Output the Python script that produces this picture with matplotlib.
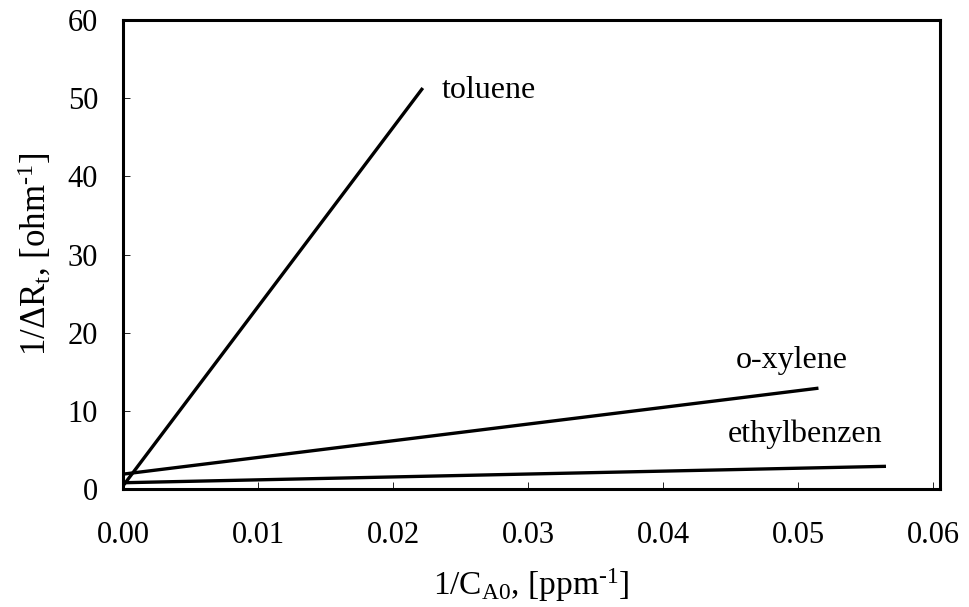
import numpy as np
import matplotlib.pyplot as plt

plt.rcParams['font.family'] = ['Liberation Serif', 'DejaVu Serif']
plt.rcParams['mathtext.fontset'] = 'custom'
plt.rcParams['mathtext.rm'] = 'Liberation Serif'
plt.rcParams['mathtext.it'] = 'Liberation Serif'

# line endpoints (x = 1/C_A0, y = 1/dR_t)
series = ['toluene', 'o-xylene', 'ethylbenzen']
x_start = [0.0, 0.0, 0.0]
y_start = [0.4, 1.9, 0.8]
x_end = [0.0222, 0.0515, 0.0565]
y_end = [51.3, 12.9, 2.9]
# where each name sits (left for toluene, right edge for the others)
label_xy = [(0.0236, 50.0), (0.0537, 15.5), (0.0562, 6.0)]
label_ha = ['left', 'right', 'right']

fig = plt.figure(figsize=(9.69, 6.07), dpi=100)
ax = fig.add_axes([123 / 969, 1 - 489 / 607, 817 / 969, 469 / 607])

for i, name in enumerate(series):
    ax.plot([x_start[i], x_end[i]], [y_start[i], y_end[i]], color='black', linewidth=2.4,
            solid_capstyle='butt')
    ax.text(label_xy[i][0], label_xy[i][1], name, fontsize=23, ha=label_ha[i], va='baseline')

ax.set_xlim(0, 0.0605)
ax.set_ylim(0, 60)
ax.set_xticks(np.arange(0, 0.061, 0.01))
ax.set_xticklabels(['0.00', '0.01', '0.02', '0.03', '0.04', '0.05', '0.06'])
ax.set_yticks(np.arange(0, 61, 10))

ax.tick_params(direction='in', length=5, width=0.6, labelsize=22)
ax.tick_params(axis='x', pad=23)
ax.tick_params(axis='y', pad=18)
for s in ax.spines.values():
    s.set_linewidth(2.2)

ax.set_xlabel('1/C$_{\\mathrm{A0}}$, [ppm$^{\\text{-1}}$]', fontsize=24)
ax.set_ylabel('1/ΔR$_{\\mathrm{t}}$, [ohm$^{\\text{-1}}$]', fontsize=25)
ax.xaxis.set_label_coords(0.5, -0.165)
ax.yaxis.set_label_coords(-0.085, 0.5)

plt.savefig('out.png', dpi=100)
